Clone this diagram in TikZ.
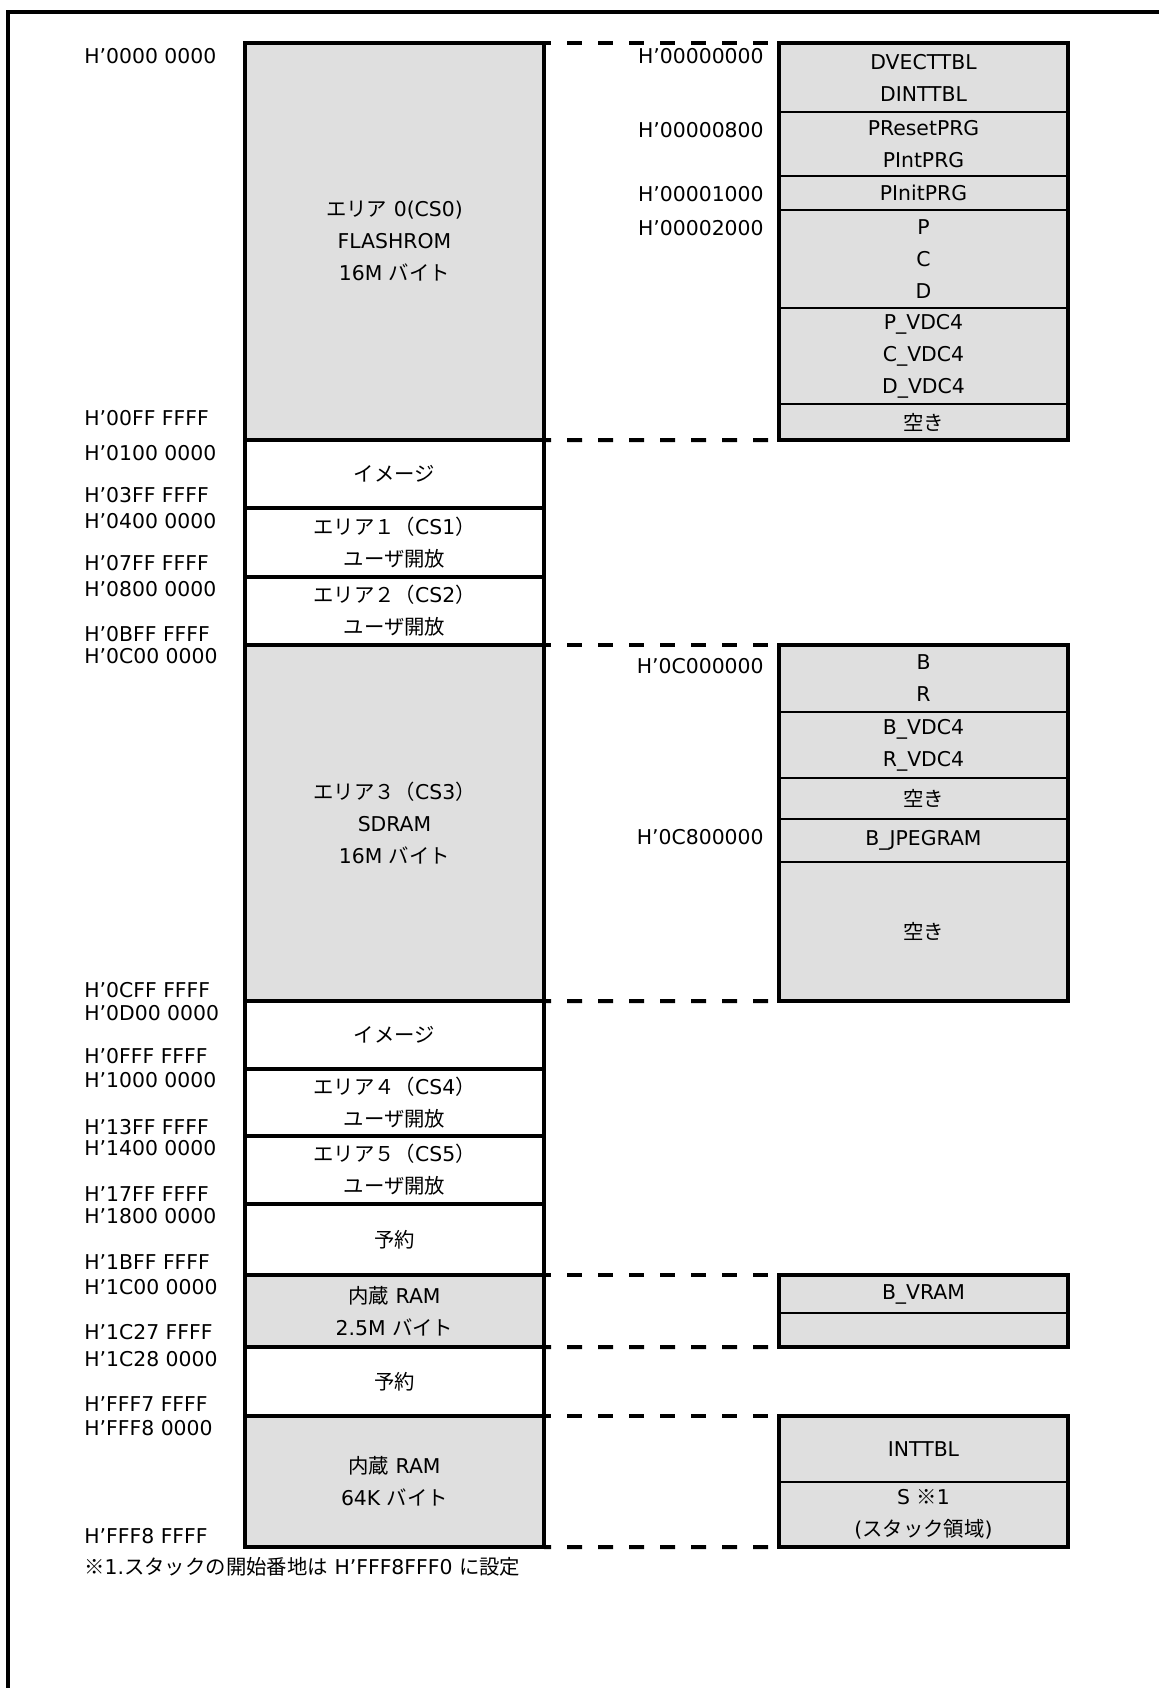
\documentclass[tikz,border=0pt]{standalone}
\usepackage{fontspec}
\setmainfont{DejaVu Sans}
\newfontfamily\jp{Noto Sans CJK JP}
\usetikzlibrary{positioning}
\definecolor{memgray}{RGB}{223, 223, 223}
\tikzset{
    % Memory area block (left column, white)
    areablk/.style={
        draw=black, line width=0.08cm,
        fill=white,
        minimum width=5.98cm,
        minimum height=#1,        % proportional to the address range
        inner sep=1pt, outer sep=0pt,
        align=center,
        font=\fontsize{11.6}{18.2}\selectfont,
    },
    % Memory area block (left column, gray)
    grayblk/.style={
        areablk=#1,
        fill=memgray,
    },
    % Section of a section map (right column)
    secblk/.style={
        draw=black, line width=0.03cm,
        fill=memgray,
        minimum width=5.78cm,
        minimum height=#1,
        inner sep=1pt, outer sep=0pt,
        align=center,
        font=\fontsize{11.6}{18.2}\selectfont,
    },
    % Thick outline round a section map
    mapline/.style={
        draw=black, line width=0.08cm,
    },
    % Dashed guide line (area -> section map)
    guideline/.style={
        black, line width=0.08cm,
        dash pattern=on 0.30cm off 0.32cm,
        dash phase=0.16cm,
    },
    % Address label, left column
    addrl/.style={
        anchor=west, inner sep=0pt,
        font=\fontsize{11.6}{18.2}\selectfont,
    },
    % Address label, right column
    addrr/.style={
        anchor=east, inner sep=0pt,
        font=\fontsize{11.6}{18.2}\selectfont,
    },
    % Outer frame
    frameline/.style={
        black, line width=0.08cm,
    },
}

\begin{document}
\begin{tikzpicture}

\useasboundingbox (0,0) rectangle (23.18,-33.76);

% outer frame (runs off the right and bottom edges)
\draw[frameline] (0.16,-33.76) |- (23.18,-0.24);

% reference columns
\coordinate (ax) at (1.68,0);
\coordinate (rax) at (15.28,0);
\coordinate (rx) at (18.47,0);

% =========================================================================
% MEMORY MAP (left column, going down)
% =========================================================================
\node[grayblk=7.94cm, anchor=north] (a0) at (7.89,-0.86) {{\jp エリア} 0(CS0)\\FLASHROM\\16M {\jp バイト}};
\node[areablk=1.36cm, below=0cm of a0] (img1) {\jp イメージ};
\node[areablk=1.38cm, below=0cm of img1] (a1) {{\jp エリア１（}CS1{\jp ）}\\{\jp ユーザ開放}};
\node[areablk=1.36cm, below=0cm of a1] (a2) {{\jp エリア２（}CS2{\jp ）}\\{\jp ユーザ開放}};
\node[grayblk=7.12cm, below=0cm of a2] (a3) {{\jp エリア３（}CS3{\jp ）}\\SDRAM\\16M {\jp バイト}};
\node[areablk=1.36cm, below=0cm of a3] (img2) {\jp イメージ};
\node[areablk=1.34cm, below=0cm of img2] (a4) {{\jp エリア４（}CS4{\jp ）}\\{\jp ユーザ開放}};
\node[areablk=1.36cm, below=0cm of a4] (a5) {{\jp エリア５（}CS5{\jp ）}\\{\jp ユーザ開放}};
\node[areablk=1.42cm, below=0cm of a5] (rsv1) {\jp 予約};
\node[grayblk=1.44cm, below=0cm of rsv1] (ram1) {{\jp 内蔵} RAM\\2.5M {\jp バイト}};
\node[areablk=1.38cm, below=0cm of ram1] (rsv2) {\jp 予約};
\node[grayblk=2.62cm, below=0cm of rsv2] (ram2) {{\jp 内蔵} RAM\\64K {\jp バイト}};

% --- start / end addresses ---
\node[addrl, yshift=-0.26cm] (a0s) at (ax |- a0.north) {H’0000 0000};
\node[addrl, yshift=0.44cm] (a0e) at (ax |- a0.south) {H’00FF FFFF};
\node[addrl, yshift=-0.26cm] (img1s) at (ax |- img1.north) {H’0100 0000};
\node[addrl, yshift=0.26cm] (img1e) at (ax |- img1.south) {H’03FF FFFF};
\node[addrl, yshift=-0.26cm] (a1s) at (ax |- a1.north) {H’0400 0000};
\node[addrl, yshift=0.28cm] (a1e) at (ax |- a1.south) {H’07FF FFFF};
\node[addrl, yshift=-0.24cm] (a2s) at (ax |- a2.north) {H’0800 0000};
\node[addrl, yshift=0.22cm] (a2e) at (ax |- a2.south) {H’0BFF FFFF};
\node[addrl, yshift=-0.22cm] (a3s) at (ax |- a3.north) {H’0C00 0000};
\node[addrl, yshift=0.22cm] (a3e) at (ax |- a3.south) {H’0CFF FFFF};
\node[addrl, yshift=-0.24cm] (img2s) at (ax |- img2.north) {H’0D00 0000};
\node[addrl, yshift=0.26cm] (img2e) at (ax |- img2.south) {H’0FFF FFFF};
\node[addrl, yshift=-0.22cm] (a4s) at (ax |- a4.north) {H’1000 0000};
\node[addrl, yshift=0.18cm] (a4e) at (ax |- a4.south) {H’13FF FFFF};
\node[addrl, yshift=-0.24cm] (a5s) at (ax |- a5.north) {H’1400 0000};
\node[addrl, yshift=0.20cm] (a5e) at (ax |- a5.south) {H’17FF FFFF};
\node[addrl, yshift=-0.24cm] (rsv1s) at (ax |- rsv1.north) {H’1800 0000};
\node[addrl, yshift=0.26cm] (rsv1e) at (ax |- rsv1.south) {H’1BFF FFFF};
\node[addrl, yshift=-0.24cm] (ram1s) at (ax |- ram1.north) {H’1C00 0000};
\node[addrl, yshift=0.30cm] (ram1e) at (ax |- ram1.south) {H’1C27 FFFF};
\node[addrl, yshift=-0.24cm] (rsv2s) at (ax |- rsv2.north) {H’1C28 0000};
\node[addrl, yshift=0.24cm] (rsv2e) at (ax |- rsv2.south) {H’FFF7 FFFF};
\node[addrl, yshift=-0.24cm] (ram2s) at (ax |- ram2.north) {H’FFF8 0000};
\node[addrl, yshift=0.22cm] (ram2e) at (ax |- ram2.south) {H’FFF8 FFFF};

% footnote
\node[addrl, yshift=-0.40cm] (note) at (ax |- ram2.south) {{\jp ※}1.{\jp スタックの開始番地は} H’FFF8FFF0 {\jp に設定}};

% =========================================================================
% SECTION MAPS (right column)
% =========================================================================

% --- FLASHROM ---
\node[secblk=1.38cm, anchor=north] (sA1) at (rx |- a0.north) {DVECTTBL\\DINTTBL};
\node[secblk=1.28cm, below=0cm of sA1] (sA2) {PResetPRG\\PIntPRG};
\node[secblk=0.68cm, below=0cm of sA2] (sA3) {PInitPRG};
\node[secblk=1.96cm, below=0cm of sA3] (sA4) {P\\C\\D};
\node[secblk=1.92cm, below=0cm of sA4] (sA5) {P\_VDC4\\C\_VDC4\\D\_VDC4};
\node[secblk=0.72cm, below=0cm of sA5] (sA6) {\jp 空き};
\draw[mapline] (sA1.north west) rectangle (sA6.south east);

\node[addrr, yshift=-0.26cm] (rA1) at (rax |- sA1.north) {H’00000000};
\node[addrr, yshift=-0.36cm] (rA2) at (rax |- sA2.north) {H’00000800};
\node[addrr, yshift=-0.36cm] (rA3) at (rax |- sA3.north) {H’00001000};
\node[addrr, yshift=-0.36cm] (rA4) at (rax |- sA4.north) {H’00002000};

% --- SDRAM ---
\node[secblk=1.34cm, anchor=north] (sB1) at (rx |- a3.north) {B\\R};
\node[secblk=1.32cm, below=0cm of sB1] (sB2) {B\_VDC4\\R\_VDC4};
\node[secblk=0.82cm, below=0cm of sB2] (sB3) {\jp 空き};
\node[secblk=0.86cm, below=0cm of sB3] (sB4) {B\_JPEGRAM};
\node[secblk=2.78cm, below=0cm of sB4] (sB5) {\jp 空き};
\draw[mapline] (sB1.north west) rectangle (sB5.south east);

\node[addrr, yshift=-0.42cm] (rB1) at (rax |- sB1.north) {H’0C000000};
\node[addrr, yshift=-0.36cm] (rB4) at (rax |- sB4.north) {H’0C800000};

% --- RAM 2.5M ---
\node[secblk=0.76cm, anchor=north] (sC1) at (rx |- ram1.north) {B\_VRAM};
\node[secblk=0.68cm, below=0cm of sC1] (sC2) {};
\draw[mapline] (sC1.north west) rectangle (sC2.south east);

% --- RAM 64K ---
\node[secblk=1.32cm, anchor=north] (sD1) at (rx |- ram2.north) {INTTBL};
\node[secblk=1.30cm, below=0cm of sD1] (sD2) {S {\jp ※}1\\({\jp スタック領域})};
\draw[mapline] (sD1.north west) rectangle (sD2.south east);

% =========================================================================
% GUIDE LINES (area -> section map)
% =========================================================================
\draw[guideline] (a0.north east) -- (sA1.north west);
\draw[guideline] (a0.south east) -- (sA6.south west);
\draw[guideline] (a3.north east) -- (sB1.north west);
\draw[guideline] (a3.south east) -- (sB5.south west);
\draw[guideline] (ram1.north east) -- (sC1.north west);
\draw[guideline] (ram1.south east) -- (sC2.south west);
\draw[guideline] (ram2.north east) -- (sD1.north west);
\draw[guideline] (ram2.south east) -- (sD2.south west);

\end{tikzpicture}
\end{document}
